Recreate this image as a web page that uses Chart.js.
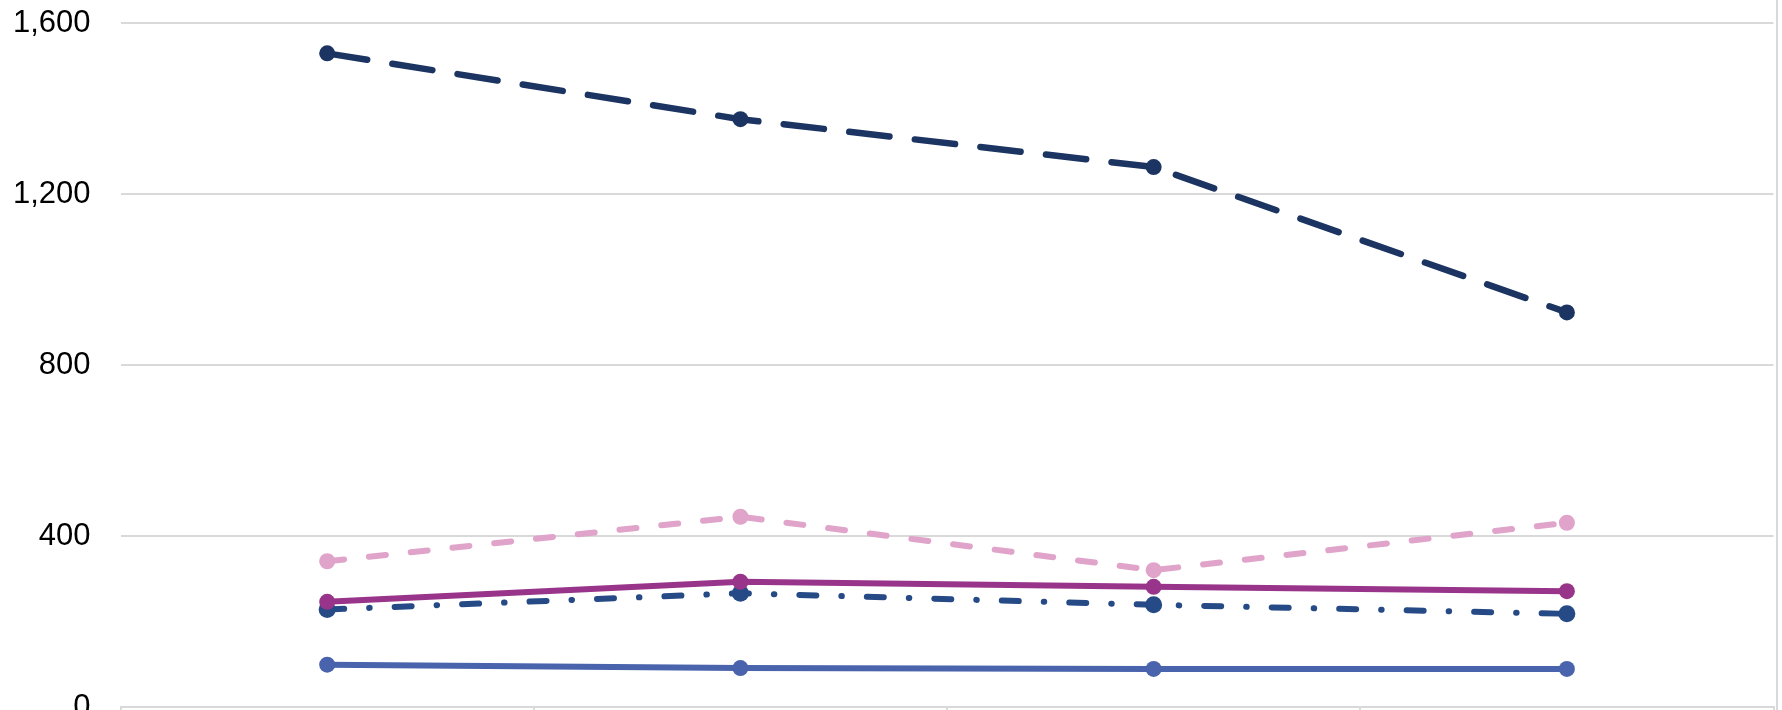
<!DOCTYPE html>
<html>
<head>
<meta charset="utf-8">
<script src="https://cdn.jsdelivr.net/npm/chart.js@4"></script>
<style>
  html, body { margin: 0; padding: 0; background: #fff; }
  #wrap { position: relative; width: 1782px; height: 710px; overflow: hidden; background: #fff; }
  #cv { position: absolute; left: 0; top: 0; }
  #edge { position: absolute; left: 1776px; top: 0; width: 2px; height: 710px; background: #D9D9D9; }
</style>
</head>
<body>
<div id="wrap">
  <canvas id="cv" width="1782" height="760"></canvas>
  <div id="edge"></div>
</div>
<script>
// ---- data ----
const categories = ["1", "2", "3", "4"];
const seriesLongDash = [1529, 1375, 1263, 923];
const seriesPinkDash = [341, 445, 320, 431];
const seriesPurple   = [246, 293, 281, 271];
const seriesDashDot  = [228, 266, 239, 218];
const seriesBlue     = [99, 91, 89, 89];
const yTicks = [0, 400, 800, 1200, 1600];

const ctx = document.getElementById('cv').getContext('2d');
new Chart(ctx, {
  type: 'line',
  data: {
    labels: categories,
    datasets: [
      { data: seriesLongDash, borderColor: '#1B3461', backgroundColor: '#1B3461',
        borderWidth: 6.5, borderDash: [40.5, 25.5], borderCapStyle: 'round',
        pointRadius: 8, pointBorderWidth: 0 },
      { data: seriesPinkDash, borderColor: '#E0A3C9', backgroundColor: '#E0A3C9',
        borderWidth: 6, borderDash: [17, 25], borderCapStyle: 'round',
        pointRadius: 8, pointBorderWidth: 0 },
      { data: seriesPurple, borderColor: '#98358A', backgroundColor: '#98358A',
        borderWidth: 6, borderCapStyle: 'round',
        pointRadius: 8, pointBorderWidth: 0 },
      { data: seriesDashDot, borderColor: '#264A86', backgroundColor: '#264A86',
        borderWidth: 6, borderDash: [17, 25, 0.5, 25], borderCapStyle: 'round',
        pointRadius: 8.5, pointBorderWidth: 0 },
      { data: seriesBlue, borderColor: '#4963AD', backgroundColor: '#4963AD',
        borderWidth: 6, borderCapStyle: 'round',
        pointRadius: 8, pointBorderWidth: 0 }
    ]
  },
  options: {
    responsive: false,
    animation: false,
    layout: { padding: { left: 13, right: 8, top: 23, bottom: 45 } },
    plugins: { legend: { display: false }, tooltip: { enabled: false }, title: { display: false } },
    elements: { line: { tension: 0 } },
    scales: {
      x: {
        type: 'category',
        offset: true,
        grid: { offset: true, drawOnChartArea: false, drawTicks: true, tickLength: 8, color: '#D9D9D9', lineWidth: 2 },
        border: { display: true, color: '#D9D9D9', width: 2 },
        ticks: { display: false }
      },
      y: {
        min: 0, max: 1600,
        afterBuildTicks: (axis) => { axis.ticks = yTicks.map(v => ({ value: v })); },
        grid: { drawTicks: true, tickLength: 30, tickColor: 'rgba(0,0,0,0)', color: '#D9D9D9', lineWidth: 2 },
        border: { display: false },
        ticks: {
          padding: 0,
          color: '#000000',
          font: { family: '"Liberation Sans", Arial, sans-serif', size: 31 },
          callback: (v) => Number(v).toLocaleString('en-US')
        }
      }
    }
  }
});
</script>
</body>
</html>
